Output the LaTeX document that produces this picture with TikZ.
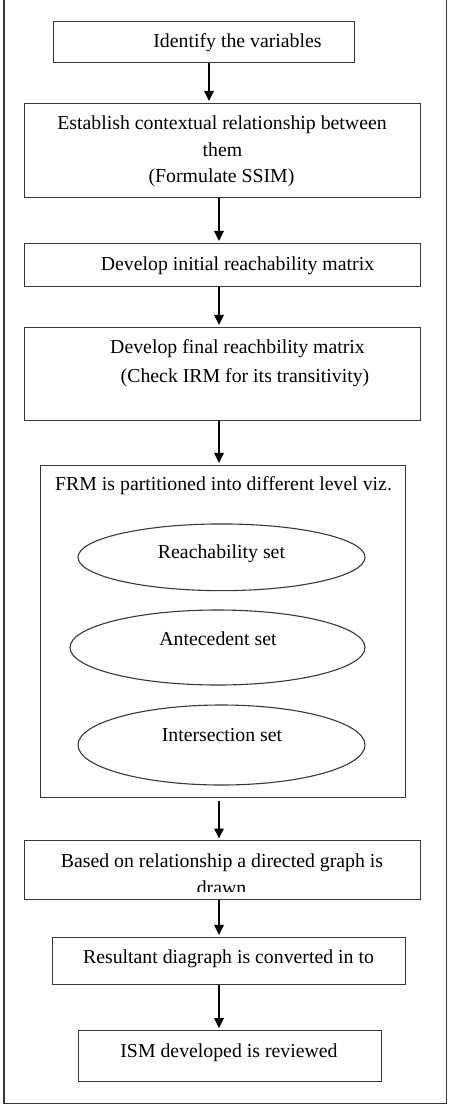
\documentclass[tikz,border=0pt]{standalone}
\usepackage{fontspec}
\setmainfont{Liberation Serif}
\usetikzlibrary{arrows.meta,shapes.geometric}
\definecolor{framegray}{HTML}{383838}
\tikzset{
  box/.style={draw=framegray,line width=1.1pt,inner sep=0pt,anchor=north west,rectangle},
  oval/.style={draw=framegray,line width=1.1pt,inner sep=0pt,ellipse},
  txt/.style={anchor=base,inner sep=0pt,font=\fontsize{19.8}{26}\selectfont},
  arr/.style={-{Triangle[length=10pt,width=9.5pt]},line width=1.5pt,black,shorten >=1.8pt}
}
\begin{document}
\begin{tikzpicture}[x=1pt,y=-1pt]
\useasboundingbox (0,0) rectangle (452,1108);
% outer frame (top edge outside the picture)
\draw[framegray,line width=1.3pt] (4,-5) -- (4,1103.3) -- (446.7,1103.3) -- (446.7,-5);
% boxes
\node[box,minimum width=301.5pt,minimum height=41pt] (b1) at (52.5,20.8) {};
\node[box,minimum width=396pt,minimum height=94pt] (b2) at (24,102.7) {};
\node[box,minimum width=396pt,minimum height=43pt] (b3) at (24,242.7) {};
\node[box,minimum width=396pt,minimum height=93.3pt] (b4) at (24,326.7) {};
\node[box,minimum width=365.5pt,minimum height=332.6pt] (b5) at (39.5,464.7) {};
\node[oval,minimum width=287pt,minimum height=66.7pt] (e1) at (221.5,557.3) {};
\node[oval,minimum width=295pt,minimum height=75pt] (e2) at (217.5,647.5) {};
\node[oval,minimum width=287pt,minimum height=80pt] (e3) at (221.5,745) {};
\node[box,minimum width=396pt,minimum height=58.4pt] (b6) at (24,840.3) {};
\node[box,minimum width=352.7pt,minimum height=47.3pt] (b7) at (52.3,936.7) {};
\node[box,minimum width=303.3pt,minimum height=51pt] (b8) at (78,1030) {};
% texts
\node[txt] (t1) at (237.5,48) {Identify the variables};
\node[txt] (t2a) at (222,129) {Establish contextual relationship between};
\node[txt] (t2b) at (222.5,156) {them};
\node[txt] (t2c) at (221.5,182) {(Formulate SSIM)};
\node[txt] (t3) at (237.5,270) {Develop initial reachability matrix};
\node[txt] (t4a) at (237.5,353) {Develop final reachbility matrix};
\node[txt] (t4b) at (245,382) {(Check IRM for its transitivity)};
\node[txt,anchor=base west] (t5) at (55,490) {FRM is partitioned into different level viz.};
\node[txt] (te1) at (221.5,558) {Reachability set};
\node[txt] (te2) at (218,645) {Antecedent set};
\node[txt] (te3) at (222,741) {Intersection set};
\node[txt] (t6a) at (222,867) {Based on relationship a directed graph is};
\begin{scope}
\clip (30,870) rectangle (415,891.5);
\node[txt] (t6b) at (221.5,894.5) {drawn};
\end{scope}
\node[txt] (t7) at (228.5,963) {Resultant diagraph is converted in to};
\node[txt] (t8) at (229,1057) {ISM developed is reviewed};
% arrow columns
\coordinate (ax1) at (209,0);
\coordinate (ax) at (219,0);
% connectors
\draw[arr] (b1.south -| ax1) -- (b2.north -| ax1);
\draw[arr] (b2.south -| ax) -- (b3.north -| ax);
\draw[arr] (b3.south -| ax) -- (b4.north -| ax);
\draw[arr] (b4.south -| ax) -- (b5.north -| ax);
\draw[arr,shorten <=3pt] (b5.south -| ax) -- (b6.north -| ax);
\draw[arr] (b6.south -| ax) -- (b7.north -| ax);
\draw[arr] (b7.south -| ax) -- (b8.north -| ax);
\end{tikzpicture}
\end{document}
